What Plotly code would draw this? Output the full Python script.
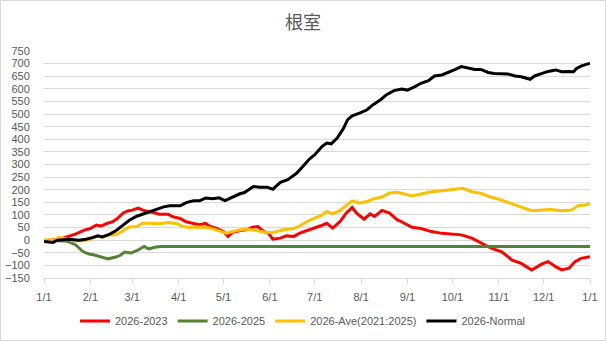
import pandas as pd
import plotly.graph_objects as go

START = pd.Timestamp("2026-01-01")

# day-of-year offsets (0 = Jan 1) and values
red_days = [0, 4, 10, 15, 21, 27, 31, 35, 38, 42, 46, 49, 53, 56, 59, 63, 66, 72, 77, 83, 86, 91, 95, 100,
            104, 108, 111, 115, 120, 123, 126, 131, 135, 140, 143, 147, 150, 153, 158, 162, 167, 171, 176,
            180, 185, 189, 193, 198, 202, 206, 209, 214, 218, 221, 226, 231, 236, 239, 246, 252, 259, 266,
            272, 279, 286, 292, 299, 306, 313, 319, 326, 333, 337, 342, 346, 351, 355, 359, 365]
red_vals = [-5, 0, 3, 13, 24, 40, 46, 60, 56, 66, 73, 86, 108, 116, 119, 127, 119, 111, 103, 103, 93, 86, 73, 66,
            61, 67, 54, 48, 34, 15, 30, 38, 41, 52, 54, 34, 28, 4, 8, 17, 15, 28, 38,
            44, 57, 67, 48, 74, 107, 130, 107, 83, 104, 94, 118, 107, 81, 73, 51, 46, 34, 27,
            25, 21, 8, -9, -32, -46, -79, -92, -118, -94, -85, -105, -118, -111, -85, -72, -66]

green_days = [0, 5, 10, 14, 17, 21, 26, 30, 33, 38, 43, 48, 51, 54, 58, 62, 64, 67, 70, 74, 78, 365]
green_vals = [-5, 0, -2, -3, -8, -18, -45, -55, -58, -67, -74, -67, -60, -47, -51, -42, -35, -25, -35, -28, -25, -25]

ave_days = [0, 4, 7, 10, 15, 19, 26, 31, 35, 39, 44, 48, 53, 57, 62, 66, 71, 75, 80, 84, 89, 93, 97, 104,
            111, 117, 122, 129, 135, 142, 149, 153, 160, 167, 171, 176, 181, 186, 189, 193, 198, 202, 206,
            211, 216, 220, 226, 231, 236, 239, 246, 252, 259, 266, 272, 280, 286, 292, 299, 306, 312, 319,
            326, 333, 339, 346, 353, 357, 362, 365]
ave_vals = [0, 3, -1, 11, 5, 0, -3, 4, 15, 12, 21, 21, 38, 52, 54, 67, 67, 65, 67, 70, 65, 54, 50, 52,
            48, 38, 28, 38, 44, 38, 30, 30, 41, 46, 57, 74, 87, 100, 114, 104, 118, 136, 156,
            147, 153, 163, 171, 187, 190, 186, 175, 183, 192, 196, 199, 206, 192, 186, 170, 159, 146, 133,
            117, 120, 122, 117, 120, 136, 139, 146]

normal_days = [0, 6, 9, 13, 17, 23, 28, 33, 36, 39, 44, 48, 53, 57, 62, 66, 71, 75, 80, 84, 91, 95, 100,
               104, 108, 113, 117, 121, 126, 131, 134, 140, 144, 149, 153, 158, 163, 169, 173, 177, 181, 186,
               189, 192, 196, 200, 203, 206, 211, 216, 220, 225, 229, 234, 239, 243, 248, 252, 257, 261,
               266, 270, 275, 279, 283, 288, 292, 297, 301, 306, 310, 315, 319, 325, 328, 333, 337, 342,
               346, 351, 354, 356, 359, 363, 365]
normal_vals = [-5, -9, 0, 3, 4, 0, 4, 11, 17, 13, 24, 37, 60, 79, 95, 103, 112, 119, 132, 136, 136, 149, 156,
               156, 167, 164, 168, 157, 171, 184, 189, 213, 210, 210, 202, 229, 240, 266, 292, 319, 339, 372,
               385, 382, 405, 441, 478, 493, 504, 517, 537, 557, 577, 593, 599, 595, 609, 622, 632, 651,
               655, 664, 677, 688, 683, 677, 677, 665, 661, 661, 659, 651, 648, 638, 651, 661, 669, 675,
               668, 669, 668, 681, 690, 698, 701]

series = [
    ("2026-2023", red_days, red_vals, "#FF0000"),
    ("2026-2025", green_days, green_vals, "#548235"),
    ("2026-Ave(2021:2025)", ave_days, ave_vals, "#FFC000"),
    ("2026-Normal", normal_days, normal_vals, "#000000"),
]

fig = go.Figure()
for name, days, vals, color in series:
    dates = START + pd.to_timedelta(days, unit="D")
    fig.add_trace(go.Scatter(x=dates, y=vals, mode="lines", name=name,
                             line=dict(color=color, width=3)))

# helper (empty) trace so the tick-mark axis is drawn
fig.add_trace(go.Scatter(x=[START], y=[None], xaxis="x2", yaxis="y", mode="lines",
                         showlegend=False, hoverinfo="skip"))

ML, MR, MT, MB = 44, 16, 51, 63
W, H = 606, 341
pw, ph = W - ML - MR, H - MT - MB
pb = MT + ph
XRANGE = ["2026-01-01", "2027-01-01"]

fig.update_layout(
    width=W, height=H,
    margin=dict(l=ML, r=MR, t=MT, b=MB, autoexpand=False),
    paper_bgcolor="white", plot_bgcolor="white",
    font=dict(family="Liberation Sans", size=11, color="#595959"),
    title=dict(text="根室", x=0.5, xref="container", xanchor="center",
               y=1 - 23 / H, yref="container", yanchor="middle",
               font=dict(family="Noto Sans CJK JP", size=18, color="#595959")),
    xaxis=dict(type="date", range=XRANGE, tick0="2026-01-01", dtick="M1",
               tickformat="%-m/%-d", showgrid=False, zeroline=False,
               showline=True, linecolor="#d9d9d9", linewidth=1,
               ticks="outside", ticklen=9, tickcolor="rgba(0,0,0,0)",
               tickfont=dict(size=11, color="#595959")),
    xaxis2=dict(type="date", range=XRANGE, tick0="2026-01-01", dtick="M1",
                overlaying="x", anchor="y", side="bottom",
                showticklabels=False, showgrid=False, zeroline=False, showline=False,
                ticks="outside", ticklen=5, tickcolor="#d9d9d9"),
    yaxis=dict(range=[-150, 750], dtick=50, tick0=0, showgrid=True, gridcolor="#d9d9d9", gridwidth=1,
               zeroline=False, showline=False,
               ticks="outside", ticklen=11, tickcolor="rgba(0,0,0,0)",
               tickfont=dict(size=11, color="#595959")),
    legend=dict(orientation="h", x=0.5, xanchor="center", xref="container",
                y=(H - 321) / H, yanchor="middle", yref="container",
                font=dict(size=11, color="#595959"), itemwidth=30),
    showlegend=True,
    shapes=[dict(type="rect", xref="paper", yref="paper",
                 x0=(0.5 - ML) / pw, x1=(W - 0.5 - ML) / pw,
                 y0=(pb - (H - 0.5)) / ph, y1=(pb - 0.5) / ph,
                 line=dict(color="#d9d9d9", width=1), fillcolor="rgba(0,0,0,0)", layer="below")],
)

fig.write_html("out.html")
